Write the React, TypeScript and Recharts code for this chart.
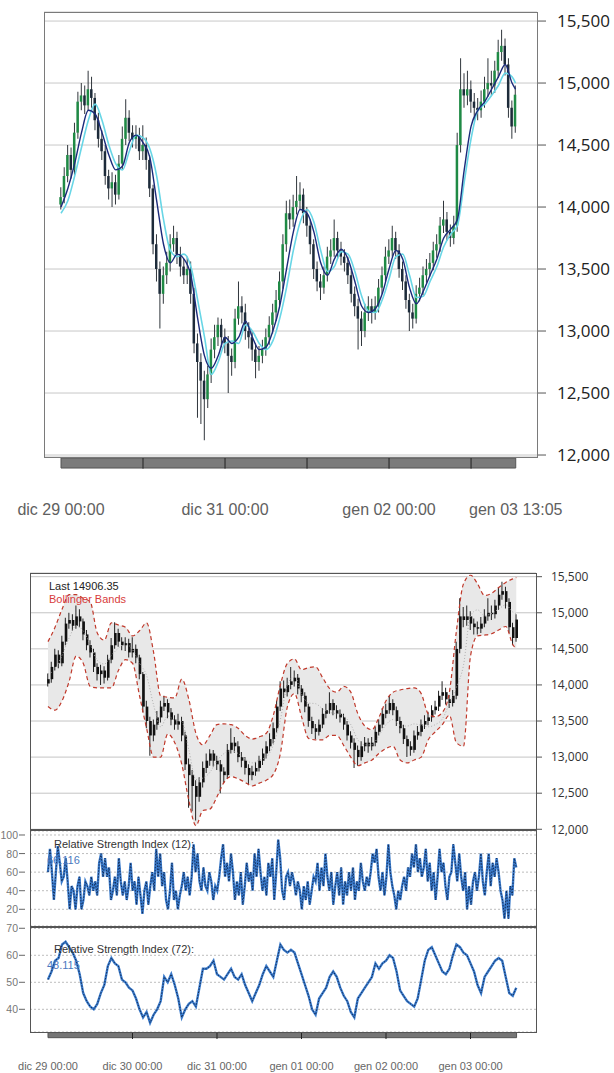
import React from 'react'
import {
  ComposedChart,
  Line,
  Bar,
  Area,
  XAxis,
  YAxis,
  CartesianGrid,
  ReferenceArea,
  ReferenceLine,
  Cell,
} from 'recharts'

// hourly prices, h = 0 is dic 29 00:00
const FIRST_OPEN = 14020
const LAST_CLOSE = '14906.35'
const closes = [
  14080, 14250, 14420, 14300, 14600, 14850, 14900, 14820, 14950, 14880,
  14700, 14550, 14450, 14250, 14150, 14200, 14100, 14350, 14550, 14720,
  14600, 14550, 14580, 14450, 14500, 14380, 14150, 13700, 13500, 13300,
  13450, 13550, 13700, 13750, 13620, 13520, 13450, 13500, 13300, 12900,
  12750, 12600, 12450, 12650, 12850, 12950, 13050, 12950, 12900, 12800,
  12750, 13100, 13200, 13150, 13000, 12950, 12850, 12750, 12800, 12850,
  12950, 13050, 13150, 13250, 13400, 13700, 13950, 13900, 14000, 14050,
  14100, 13950, 13850, 13700, 13500, 13400, 13350, 13450, 13600, 13650,
  13750, 13650, 13600, 13550, 13450, 13300, 13200, 13100, 13000, 13150,
  13200, 13150, 13200, 13350, 13450, 13600, 13650, 13750, 13650, 13500,
  13400, 13250, 13150, 13100, 13300, 13350, 13450, 13500, 13550, 13650,
  13700, 13850, 13900, 13800, 13750, 13850, 14500, 14950, 14900, 14950,
  14850, 14800, 14780, 14850, 14950, 15000, 14980, 15100, 15250, 15300,
  15150, 14800, 14650, 14906,
]
const highs = [
  14160, 14320, 14500, 14480, 14680, 14930, 15000, 14980, 15100, 15050,
  14920, 14760, 14620, 14500, 14300, 14280, 14260, 14420, 14650, 14870,
  14780, 14660, 14660, 14640, 14660, 14560, 14420, 14180, 13780, 13560,
  13520, 13640, 13780, 13850, 13800, 13680, 13580, 13600, 13560, 13350,
  12980, 12820, 12680, 12720, 12940, 13050, 13110, 13100, 13020, 12960,
  12860, 13180, 13400, 13280, 13220, 13070, 13000, 12900, 12880, 12930,
  13020, 13120, 13220, 13330, 13480, 13780, 14050, 14060, 14100, 14250,
  14200, 14150, 14000, 13900, 13740, 13560, 13460, 13520, 13680, 13740,
  13900, 13800, 13720, 13660, 13600, 13500, 13360, 13260, 13160, 13220,
  13280, 13260, 13280, 13420, 13520, 13680, 13740, 13850, 13800, 13700,
  13560, 13450, 13300, 13220, 13370, 13430, 13520, 13580, 13630, 13720,
  13780, 13920, 14050, 13960, 13860, 13930, 14600, 15200, 15080, 15100,
  15020, 14920, 14880, 14940, 15050, 15200, 15100, 15180, 15350, 15430,
  15360, 15200, 14860, 14980,
]
const lows = [
  13980, 14030, 14200, 14230, 14260, 14550, 14780, 14750, 14780, 14800,
  14620, 14480, 14380, 14180, 14060, 14000, 14020, 14060, 14300, 14500,
  14530, 14480, 14470, 14380, 14380, 14300, 14080, 13620, 13400, 13020,
  13220, 13380, 13480, 13640, 13540, 13440, 13380, 13380, 13220, 12820,
  12300, 12250, 12120, 12380, 12580, 12780, 12880, 12870, 12820, 12500,
  12640, 12700, 13050, 13060, 12930, 12860, 12760, 12620, 12680, 12740,
  12800, 12890, 12980, 13080, 13190, 13340, 13640, 13820, 13840, 13940,
  13980, 13870, 13760, 13620, 13420, 13320, 13250, 13300, 13400, 13540,
  13600, 13580, 13530, 13480, 13380, 13230, 13120, 12850, 12880, 12950,
  13080, 13060, 13090, 13150, 13300, 13400, 13540, 13600, 13580, 13430,
  13330, 13180, 13000, 13020, 13060, 13240, 13290, 13390, 13440, 13490,
  13590, 13640, 13790, 13730, 13680, 13700, 13800, 14440, 14800, 14820,
  14760, 14700, 14700, 14720, 14800, 14890, 14900, 14920, 15040, 15180,
  15060, 14720, 14550, 14600,
]

// indicator values every 2 hours
const lineHours = [
  0, 2, 4, 6, 8, 10, 12, 14, 16, 18, 20, 22, 24, 26, 28, 30, 32, 34, 36, 38,
  40, 42, 44, 46, 48, 50, 52, 54, 56, 58, 60, 62, 64, 66, 68, 70, 72, 74, 76, 78,
  80, 82, 84, 86, 88, 90, 92, 94, 96, 98, 100, 102, 104, 106, 108, 110, 112, 114, 116, 118,
  120, 122, 124, 126, 128, 130, 132, 133,
]
const maFast = [
  14000, 14150, 14350, 14600, 14780, 14750, 14600, 14420, 14300, 14330,
  14520, 14580, 14520, 14400, 14050, 13700, 13550, 13620, 13580, 13450,
  13100, 12800, 12700, 12800, 12950, 12900, 12950, 13080, 12950, 12850,
  12870, 13000, 13200, 13500, 13800, 13980, 13950, 13800, 13550, 13450,
  13580, 13660, 13580, 13400, 13200, 13150, 13180, 13300, 13500, 13650,
  13580, 13350, 13220, 13320, 13450, 13580, 13750, 13820, 13900, 14300,
  14650, 14780, 14850, 14950, 15050, 15150, 15000, 14950,
]
const maSlow = [
  13950, 14050, 14250, 14480, 14700, 14830, 14700, 14500, 14350, 14300,
  14450, 14580, 14560, 14470, 14250, 13900, 13650, 13600, 13620, 13520,
  13250, 12950, 12650, 12750, 12900, 12920, 12900, 13050, 13000, 12900,
  12850, 12920, 13100, 13350, 13650, 13880, 13980, 13880, 13650, 13480,
  13520, 13640, 13620, 13480, 13280, 13160, 13150, 13250, 13420, 13600,
  13620, 13450, 13270, 13280, 13400, 13520, 13680, 13780, 13850, 14200,
  14550, 14780, 14830, 14900, 14980, 15080, 15050, 15000,
]
const bbUpper = [
  14600, 14800, 15050, 15250, 15250, 15200, 15150, 14720, 14620, 14860,
  14830, 14800, 14680, 14750, 14860, 14450, 13850, 13830, 13820, 14080,
  13800, 13330, 13170, 13300, 13450, 13460, 13450, 13400, 13300, 13250,
  13280, 13330, 13580, 14000, 14300, 14360, 14210, 14240, 14250, 14100,
  13950, 13900, 13980, 13900, 13600, 13430, 13380, 13550, 13780, 13900,
  13930, 13950, 13960, 13880, 13600, 13560, 13620, 13900, 14750, 15400,
  15520, 15400, 15240, 15270, 15350, 15420, 15470, 15490,
]
const bbLower = [
  13700, 13650, 13780, 14050, 14400, 14300, 13980, 13960, 13960, 13960,
  14200, 14350, 14300, 13850, 13400, 13000, 13000, 13320, 13200, 12900,
  12400, 12050, 12260, 12280, 12450, 12650, 12730, 12700, 12650, 12600,
  12640, 12680, 12760, 13050, 13700, 13880, 13560, 13260, 13240, 13240,
  13300, 13300, 13160, 13000, 12880, 12920, 12960, 13050, 13120, 13150,
  12960, 12920, 12960, 13000, 13240, 13350, 13450, 13580, 13200, 13150,
  14400, 14680, 14690, 14710, 14760, 14810, 14560, 14500,
]
const bbMid = [
  14150, 14220, 14410, 14650, 14820, 14750, 14560, 14340, 14290, 14410,
  14510, 14570, 14490, 14300, 14130, 13720, 13420, 13570, 13510, 13490,
  13100, 12690, 12710, 12790, 12950, 13050, 13090, 13050, 12970, 12920,
  12960, 13000, 13170, 13520, 14000, 14120, 13880, 13750, 13740, 13670,
  13620, 13600, 13570, 13450, 13240, 13170, 13170, 13300, 13450, 13520,
  13440, 13430, 13460, 13440, 13420, 13450, 13530, 13740, 13970, 14270,
  14960, 15040, 14960, 14990, 15050, 15110, 15010, 14990,
]

// RSI(12), evenly spaced over the whole period
const rsi12 = [
  60, 85, 60, 30, 60, 88, 70, 50, 55, 75,
  50, 20, 45, 40, 20, 45, 55, 20, 30, 50,
  45, 35, 55, 40, 50, 35, 70, 80, 55, 75,
  55, 65, 30, 40, 55, 35, 75, 50, 35, 50,
  30, 45, 70, 40, 50, 25, 55, 35, 15, 40,
  50, 25, 45, 60, 40, 85, 55, 80, 45, 60,
  30, 20, 40, 70, 30, 40, 20, 35, 45, 60,
  40, 55, 35, 55, 90, 60, 80, 50, 40, 65,
  45, 40, 60, 50, 30, 45, 40, 55, 75, 90,
  55, 70, 50, 80, 60, 30, 50, 35, 60, 25,
  45, 70, 50, 60, 40, 80, 55, 85, 60, 40,
  55, 35, 70, 55, 75, 30, 60, 95, 75, 40,
  30, 55, 60, 45, 60, 50, 35, 50, 40, 20,
  45, 30, 50, 25, 40, 55, 50, 70, 40, 65,
  45, 80, 55, 40, 60, 25, 45, 60, 35, 65,
  25, 50, 35, 60, 40, 65, 30, 50, 40, 70,
  50, 40, 55, 45, 60, 80, 70, 85, 55, 40,
  60, 35, 55, 90, 60, 45, 35, 20, 40, 30,
  45, 55, 40, 65, 55, 80, 65, 90, 60, 75,
  55, 65, 85, 50, 70, 40, 60, 30, 55, 85,
  60, 70, 45, 30, 55, 60, 90, 70, 50, 80,
  55, 40, 60, 20, 45, 25, 50, 60, 40, 55,
  80, 50, 35, 60, 80, 45, 70, 55, 75, 60,
  40, 30, 10, 40, 10, 45, 35, 75, 65,
]
// RSI(72), hourly
const rsi72 = [
  51, 54, 58, 59, 64, 65, 63, 61, 58, 53,
  46, 43, 41, 40, 42, 46, 49, 56, 59, 57,
  56, 51, 50, 48, 47, 44, 40, 37, 39, 35,
  38, 40, 43, 52, 50, 53, 49, 44, 37, 40,
  42, 43, 41, 48, 55, 55, 56, 58, 53, 52,
  51, 53, 55, 52, 51, 53, 49, 46, 43, 46,
  49, 53, 56, 54, 52, 58, 64, 62, 61, 62,
  61, 57, 53, 49, 45, 40, 38, 44, 46, 48,
  52, 54, 52, 48, 45, 43, 39, 37, 44, 46,
  48, 50, 52, 57, 55, 57, 58, 60, 59, 54,
  47, 45, 43, 42, 41, 44, 51, 58, 62, 63,
  60, 57, 54, 53, 55, 60, 64, 63, 61, 60,
  57, 54, 49, 46, 52, 54, 56, 58, 59, 58,
  52, 46, 45, 48,
]

const END_HOUR = 133.08
const priceTicks = [12000, 12500, 13000, 13500, 14000, 14500, 15000, 15500]
const topDateTicks = [0, 48, 96, END_HOUR]
const topDateLabels = ['dic 29 00:00', 'dic 31 00:00', 'gen 02 00:00', 'gen 03 13:05']
const bottomDateTicks = [0, 24, 48, 72, 96, 120]
const bottomDateLabels = ['dic 29 00:00', 'dic 30 00:00', 'dic 31 00:00', 'gen 01 00:00', 'gen 02 00:00', 'gen 03 00:00']
const dayLines = [24, 48, 72, 96, 120]
const rsi12Ticks = [20, 40, 60, 80, 100]
const rsi72Ticks = [40, 50, 60, 70]

const priceData = closes.map((c, i) => {
  const k = lineHours.indexOf(i)
  return {
    h: i,
    c,
    o: i === 0 ? FIRST_OPEN : closes[i - 1],
    hi: highs[i],
    lo: lows[i],
    fast: k >= 0 ? maFast[k] : null,
    slow: k >= 0 ? maSlow[k] : null,
    up: k >= 0 ? bbUpper[k] : null,
    dn: k >= 0 ? bbLower[k] : null,
    mid: k >= 0 ? bbMid[k] : null,
  }
})
const rsi12Data = rsi12.map((v, i) => ({ h: (i * 133) / (rsi12.length - 1), v }))
const rsi72Data = rsi72.map((v, i) => ({ h: i, v }))

const TOP_X: [number, number] = [-4.975, 139.3]
const BOT_X: [number, number] = [-5.11, 138.6]
const ARIAL = '"Liberation Sans", Arial, sans-serif'

const fmt = (v: number) => v.toLocaleString('en-US')

function LeftTick(props: any) {
  const { x, y, payload } = props
  return (
    <g>
      <line x1={x - 6} x2={x} y1={y} y2={y} stroke="#666" />
      <text x={x - 7} y={y} dy={4} textAnchor="end" fill="#777" fontSize={10.5} fontFamily={ARIAL}>
        {payload.value}
      </text>
    </g>
  )
}

function abs(left: number, top: number): React.CSSProperties {
  return { position: 'absolute', left, top }
}

function Label({ x, y, color, children }: { x: number; y: number; color: string; children: React.ReactNode }) {
  return (
    <div style={{ ...abs(x, y), color, fontSize: 11, fontFamily: ARIAL, lineHeight: '13px', whiteSpace: 'nowrap' }}>
      {children}
    </div>
  )
}

function TopChart() {
  return (
    <div style={abs(0, 0)}>
      <ComposedChart width={614} height={530} data={priceData} margin={{ top: 12, right: 0, bottom: 0, left: 44 }}>
        <XAxis
          dataKey="h"
          type="number"
          domain={TOP_X}
          allowDataOverflow
          ticks={topDateTicks}
          interval={0}
          tickFormatter={(v) => topDateLabels[topDateTicks.indexOf(v)]}
          axisLine={false}
          tickLine={false}
          tickMargin={41}
          height={73}
          tick={{ fill: '#606060', fontSize: 16, fontFamily: ARIAL }}
        />
        <XAxis xAxisId="wick" dataKey="h" type="number" domain={TOP_X} allowDataOverflow hide />
        <XAxis xAxisId="body" dataKey="h" type="number" domain={TOP_X} allowDataOverflow hide />
        <YAxis
          orientation="right"
          domain={[11984, 15573]}
          allowDataOverflow
          ticks={priceTicks}
          interval={0}
          tickFormatter={fmt}
          width={77}
          axisLine={false}
          tickLine={{ stroke: '#555' }}
          tickSize={9}
          tickMargin={11}
          tick={{ fill: '#222', fontSize: 17, fontFamily: '"Open Sans", sans-serif', textAnchor: 'start' }}
        />
        <CartesianGrid vertical={false} stroke="#c8c8c8" />
        <ReferenceArea x1={0} x2={END_HOUR} y1={11976} y2={11895} ifOverflow="visible" fill="#7b7b7b" fillOpacity={1} stroke="#555" />
        {dayLines.map((h) => (
          <ReferenceLine key={h} segment={[{ x: h, y: 11976 }, { x: h, y: 11890 }]} stroke="#222" ifOverflow="visible" />
        ))}
        <Bar xAxisId="wick" dataKey={(d: any) => [d.lo, d.hi]} barSize={1} fill="#30363c" isAnimationActive={false} />
        <Bar xAxisId="body" dataKey={(d: any) => [Math.min(d.o, d.c), Math.max(d.o, d.c)]} barSize={2.5} isAnimationActive={false}>
          {priceData.map((d, i) => (
            <Cell key={i} fill={d.c >= d.o ? '#1f8a45' : '#1d2b3a'} />
          ))}
        </Bar>
        <Line dataKey="slow" type="monotone" stroke="#68d6e6" strokeWidth={1.6} dot={false} connectNulls isAnimationActive={false} />
        <Line dataKey="fast" type="monotone" stroke="#1b2a7a" strokeWidth={1.4} dot={false} connectNulls isAnimationActive={false} />
      </ComposedChart>
      <div style={{ ...abs(44, 12), width: 494, height: 446, border: '1px solid #7a7a7a', boxSizing: 'border-box', pointerEvents: 'none' }} />
    </div>
  )
}

function PricePanel() {
  return (
    <div style={abs(0, 560)}>
      <ComposedChart width={614} height={285} data={priceData} margin={{ top: 13, right: 0, bottom: 15, left: 30 }}>
        <XAxis dataKey="h" type="number" domain={BOT_X} allowDataOverflow hide />
        <XAxis xAxisId="wick" dataKey="h" type="number" domain={BOT_X} allowDataOverflow hide />
        <XAxis xAxisId="body" dataKey="h" type="number" domain={BOT_X} allowDataOverflow hide />
        <YAxis
          orientation="right"
          domain={[11990, 15551]}
          allowDataOverflow
          ticks={priceTicks}
          interval={0}
          tickFormatter={fmt}
          width={78}
          axisLine={false}
          tickLine={{ stroke: '#555' }}
          tickSize={6}
          tickMargin={9}
          tick={{ fill: '#333', fontSize: 12, fontFamily: '"Open Sans", sans-serif', textAnchor: 'start' }}
        />
        <CartesianGrid vertical={false} stroke="#c4c4c4" />
        <Area dataKey={(d: any) => (d.up == null ? null : [d.dn, d.up])} type="monotone" fill="#e8e8e8" fillOpacity={1} stroke="none" connectNulls isAnimationActive={false} />
        <Line dataKey="mid" type="monotone" stroke="#b0b0b0" strokeWidth={1} strokeDasharray="1 2" dot={false} connectNulls isAnimationActive={false} />
        <Bar xAxisId="wick" dataKey={(d: any) => [d.lo, d.hi]} barSize={1} fill="#222" isAnimationActive={false} />
        <Bar xAxisId="body" dataKey={(d: any) => [Math.min(d.o, d.c), Math.max(d.o, d.c)]} barSize={2.5} fill="#111" isAnimationActive={false} />
        <Line dataKey="up" type="monotone" stroke="#c0392b" strokeWidth={1.2} strokeDasharray="4 3" dot={false} connectNulls isAnimationActive={false} />
        <Line dataKey="dn" type="monotone" stroke="#c0392b" strokeWidth={1.2} strokeDasharray="4 3" dot={false} connectNulls isAnimationActive={false} />
      </ComposedChart>
    </div>
  )
}

function RsiPanel({
  top,
  height,
  marginTop,
  marginBottom,
  data,
  domain,
  ticks,
  withDates,
}: {
  top: number
  height: number
  marginTop: number
  marginBottom: number
  data: { h: number; v: number }[]
  domain: [number, number]
  ticks: number[]
  withDates?: boolean
}) {
  return (
    <div style={abs(0, top)}>
      <ComposedChart width={614} height={height} data={data} margin={{ top: marginTop, right: 78, bottom: marginBottom, left: 0 }}>
        <XAxis
          dataKey="h"
          type="number"
          domain={BOT_X}
          allowDataOverflow
          hide={!withDates}
          ticks={bottomDateTicks}
          interval={0}
          tickFormatter={(v) => bottomDateLabels[bottomDateTicks.indexOf(v)]}
          axisLine={false}
          tickLine={false}
          tickSize={6}
          tickMargin={24}
          height={41}
          tick={{ fill: '#666', fontSize: 11, fontFamily: ARIAL }}
        />
        <YAxis
          domain={domain}
          allowDataOverflow
          ticks={ticks}
          interval={0}
          width={30}
          axisLine={false}
          tickLine={false}
          tickSize={0}
          tickMargin={5}
          tick={LeftTick}
        />
        <CartesianGrid vertical={false} stroke="#bdbdbd" strokeDasharray="2 2" />
        {withDates && (
          <ReferenceArea x1={0} x2={END_HOUR} y1={31.4} y2={29.5} ifOverflow="visible" fill="#767676" fillOpacity={1} stroke="#555" />
        )}
        {withDates &&
          dayLines.map((h) => (
            <ReferenceLine key={h} segment={[{ x: h, y: 31.4 }, { x: h, y: 29.0 }]} stroke="#222" ifOverflow="visible" />
          ))}
        <Line dataKey="v" type="linear" stroke="#3a7bcc" strokeWidth={2.4} dot={false} isAnimationActive={false} />
        <Line dataKey="v" type="linear" stroke="#132c57" strokeWidth={1} strokeDasharray="1.5 1.5" dot={false} isAnimationActive={false} />
      </ComposedChart>
    </div>
  )
}

export default function App() {
  return (
    <div style={{ position: 'absolute', left: 0, top: 0, width: 614, height: 1073, background: '#fff', overflow: 'hidden' }}>
      <TopChart />
      <PricePanel />
      <RsiPanel top={820} height={115} marginTop={11} marginBottom={9} data={rsi12Data} domain={[2, 104.3]} ticks={rsi12Ticks} />
      <RsiPanel top={920} height={153} marginTop={8} marginBottom={0} data={rsi72Data} domain={[31.6, 70.1]} ticks={rsi72Ticks} withDates />

      {/* frame of the lower chart and its panel dividers */}
      <div style={{ ...abs(30, 573), width: 507, height: 460, border: '1px solid #555', boxSizing: 'border-box', pointerEvents: 'none' }} />
      <div style={{ ...abs(30, 829), width: 507, height: 2, background: '#555' }} />
      <div style={{ ...abs(30, 926), width: 507, height: 2, background: '#555' }} />

      <Label x={49} y={580} color="#222">
        Last {LAST_CLOSE}
      </Label>
      <Label x={49} y={593} color="#d83c3c">
        Bollinger Bands
      </Label>
      <Label x={54} y={838} color="#333">
        Relative Strength Index (12):
      </Label>
      <Label x={47} y={854} color="#4a78c0">
        66.116
      </Label>
      <Label x={54} y={943} color="#333">
        Relative Strength Index (72):
      </Label>
      <Label x={47} y={959} color="#4a78c0">
        48.115
      </Label>
    </div>
  )
}
